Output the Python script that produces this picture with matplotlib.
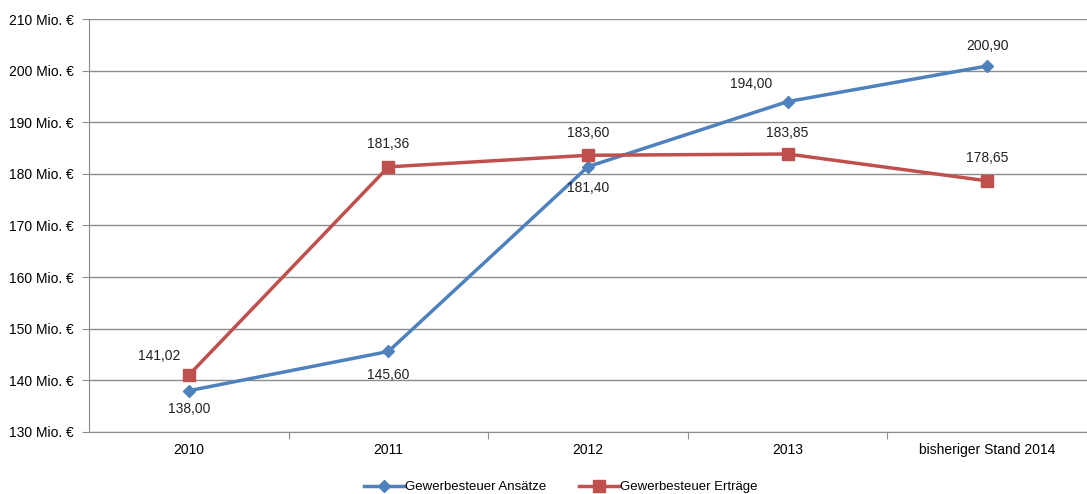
import matplotlib
matplotlib.use('Agg')
import matplotlib.pyplot as plt

plt.rcParams['font.family'] = ['Liberation Sans', 'DejaVu Sans']

categories = ['2010', '2011', '2012', '2013', 'bisheriger Stand 2014']
ansaetze = [138.00, 145.60, 181.40, 194.00, 200.90]
ertraege = [141.02, 181.36, 183.60, 183.85, 178.65]

blue = '#4F81BD'
red = '#C0504D'
grid = '#8C8C8C'

# label offsets in pixels (dx, dy)
off_blue = [(0, -18), (0, -24), (0, -21), (-36, 18), (0, 20)]
off_red = [(-30, 19), (0, 23), (0, 22), (0, 21), (0, 23)]

fig = plt.figure(figsize=(10.87, 4.94), dpi=100)
ax = fig.add_axes([89 / 1087, 62 / 494, 998 / 1087, 413 / 494])

x = list(range(len(categories)))
ax.plot(x, ansaetze, color=blue, lw=2.5, marker='D', ms=6, label='Gewerbesteuer Ansätze', zorder=3)
ax.plot(x, ertraege, color=red, lw=2.5, marker='s', ms=8, label='Gewerbesteuer Erträge', zorder=3)

def fmt(v):
    return '{:.2f}'.format(v).replace('.', ',')

fs = 10
for i, v in enumerate(ansaetze):
    ax.annotate(fmt(v), (i, v), xytext=off_blue[i], textcoords='offset pixels',
                ha='center', va='center', fontsize=fs, color='#222222')
for i, v in enumerate(ertraege):
    ax.annotate(fmt(v), (i, v), xytext=off_red[i], textcoords='offset pixels',
                ha='center', va='center', fontsize=fs, color='#222222')

ax.set_ylim(130, 210)
ax.set_yticks(range(130, 211, 10))
ax.set_yticklabels(['{} Mio. €'.format(t) for t in range(130, 211, 10)], fontsize=fs)
ax.set_xlim(-0.5, -0.5 + 4.9)
ax.set_xticks([i + 0.5 for i in range(len(categories))])
ax.set_xticklabels([])
ax.set_xticks(x, minor=True)
ax.set_xticklabels(categories, minor=True, fontsize=fs)
ax.tick_params(axis='x', which='minor', length=0, pad=8)
ax.tick_params(axis='x', which='major', length=5, color=grid)
ax.tick_params(axis='y', length=5, color=grid, pad=6)

ax.grid(axis='y', color=grid, lw=1)
ax.set_axisbelow(True)
for s in ['top', 'right']:
    ax.spines[s].set_visible(False)
ax.spines['left'].set_color(grid)
ax.spines['bottom'].set_color(grid)

fig.legend(loc='center', bbox_to_anchor=(561 / 1087, 1 - 487 / 494), ncol=2, frameon=False,
           fontsize=9.5, handlelength=3.0, handletextpad=0.1, columnspacing=2.5)

fig.savefig('out.png', dpi=100)
